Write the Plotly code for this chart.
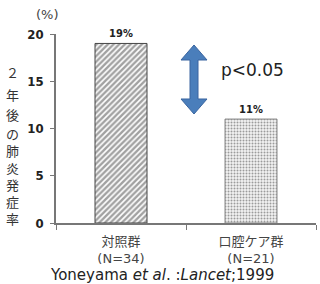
import plotly.graph_objects as go

categories = ["対照群<br>(N=34)", "口腔ケア群<br>(N=21)"]
values = [19, 11]
bar_labels = ["19%", "11%"]
y_ticks = [0, 5, 10, 15, 20]
y_title_chars = ["２", "年", "後", "の", "肺", "炎", "発", "症", "率"]

W, H = 320, 284
L, R, T, B = 56, 4, 34, 61
PW, PH = W - L - R, H - T - B

def px(x):
    return (x - L) / PW

def py(y):
    return (H - B - y) / PH

fig = go.Figure()
fig.add_trace(go.Bar(
    x=categories, y=values, width=0.4,
    text=bar_labels, textposition="outside", cliponaxis=False,
    textfont=dict(family="DejaVu Sans Condensed", size=11, color="#222", weight="bold"),
    marker=dict(
        color=["white", "#f2f2f2"],
        line=dict(color=["#444", "#888"], width=1),
        pattern=dict(shape=["/", "."], fgcolor=["#2a2a2a", "#bdbdbd"], bgcolor=["#e8e8e8", "#f8f8f8"],
                     size=[4, 3], solidity=[0.6, 0.35]),
    ),
))

fig.update_layout(
    width=W, height=H, margin=dict(l=L, r=R, t=T, b=B),
    paper_bgcolor="white", plot_bgcolor="white", showlegend=False,
    font=dict(family="DejaVu Sans", color="#333"),
    xaxis=dict(showline=True, linecolor="#777", linewidth=1.5, ticks="outside",
               tickson="boundaries", ticklen=5, tickcolor="#777", automargin=False,
               ticklabelstandoff=6,
               tickfont=dict(family="DejaVu Sans, Noto Sans CJK JP", size=13, color="#444"),
               showgrid=False),
    yaxis=dict(range=[0, 20], showline=True, linecolor="#777", linewidth=1.5,
               ticks="outside", ticklen=4, tickcolor="#777", tickvals=y_ticks, automargin=False,
               ticklabelstandoff=4,
               tickfont=dict(family="DejaVu Sans Condensed", size=13, color="#222", weight="bold"),
               showgrid=False, zeroline=False),
)

# double-headed arrow
cx, top, bot = 194, 45, 114
hw, hh, sw = 13, 15, 4
pts = [(cx, top), (cx + hw, top + hh), (cx + sw, top + hh), (cx + sw, bot - hh),
       (cx + hw, bot - hh), (cx, bot), (cx - hw, bot - hh), (cx - sw, bot - hh),
       (cx - sw, top + hh), (cx - hw, top + hh)]
path = "M " + " L ".join(f"{px(x):.4f},{py(y):.4f}" for x, y in pts) + " Z"
fig.add_shape(type="path", path=path, xref="paper", yref="paper",
              fillcolor="#4a7ebb", line=dict(color="#3a65a0", width=1))

def ann(x, y, text, font):
    fig.add_annotation(x=px(x), y=py(y), xref="paper", yref="paper", text=text,
                       xanchor="center", yanchor="middle", showarrow=False, font=font,
                       borderpad=0)

ann(252, 70, "p&lt;0.05", dict(family="DejaVu Sans", size=17, color="#222"))
ann(47, 14, "(%)", dict(family="DejaVu Sans", size=13, color="#444"))

ys = [72, 94, 114, 133, 150, 167, 184, 201, 218]
for ch, yy in zip(y_title_chars, ys):
    ann(12, yy, ch, dict(family="Noto Sans CJK JP", size=13, color="#333"))

ann(162, 275, "Yoneyama <i>et al</i>. :<i>Lancet</i>;1999",
    dict(family="DejaVu Sans", size=15, color="#222"))

fig.write_html("out.html", config={"displayModeBar": False},
               post_script="document.body.style.margin='0';document.body.style.overflow='hidden';")
